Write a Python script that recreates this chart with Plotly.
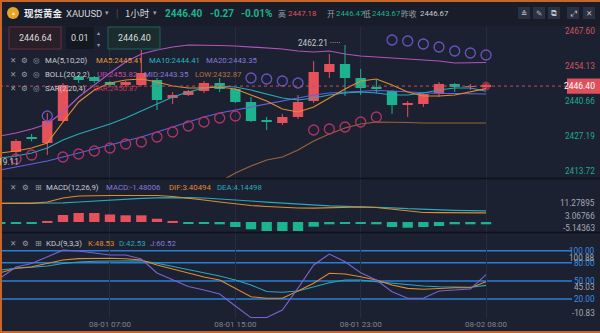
import plotly.graph_objects as go

W, H = 600, 333

# ---------------- data ----------------
bar_idx = list(range(32))
candle_idx = list(range(1, 32))
tick_idx = [7, 15, 23, 31]
tick_text = ['08-01 07:00', '08-01 15:00', '08-01 23:00', '08-02 08:00']

opens = [2421.03, 2426.81, 2424.50, 2432.96, 2449.90, 2449.90, 2447.97, 2446.82, 2446.82, 2448.74,
         2441.82, 2442.97, 2444.51, 2447.59, 2445.28, 2440.28, 2433.15, 2432.19, 2434.50, 2440.66,
         2451.82, 2454.90, 2449.51, 2445.85, 2444.51, 2439.31, 2439.51, 2443.74, 2447.20, 2446.05, 2446.30]
highs = [2426.04, 2427.96, 2436.04, 2447.59, 2450.67, 2450.28, 2448.36, 2448.36, 2460.29, 2449.51,
         2444.12, 2444.89, 2448.36, 2449.51, 2445.66, 2442.20, 2434.50, 2435.66, 2442.97, 2456.05,
         2458.75, 2462.21, 2452.98, 2448.74, 2444.89, 2440.66, 2443.74, 2447.97, 2447.59, 2447.20, 2447.18]
lows = [2419.11, 2425.08, 2419.88, 2432.58, 2447.59, 2447.59, 2446.43, 2446.43, 2446.43, 2437.20,
        2439.51, 2442.59, 2443.74, 2444.12, 2439.89, 2432.58, 2429.50, 2431.42, 2433.73, 2439.89,
        2449.51, 2442.59, 2442.97, 2443.74, 2435.66, 2434.50, 2438.35, 2442.20, 2444.12, 2444.89, 2445.66]
closes = [2425.27, 2426.04, 2432.96, 2446.82, 2448.74, 2448.36, 2446.82, 2447.97, 2451.44, 2441.05,
          2442.97, 2444.51, 2447.59, 2445.28, 2440.28, 2432.96, 2432.96, 2434.50, 2440.28, 2451.82,
          2454.90, 2449.51, 2445.66, 2445.66, 2439.12, 2439.51, 2443.35, 2447.20, 2446.05, 2446.43, 2446.40]

ma5 = [2420.65, 2421.42, 2422.57, 2424.50, 2432.58, 2440.28, 2444.89, 2447.59, 2448.74, 2449.13,
       2447.97, 2446.43, 2445.66, 2445.66, 2446.05, 2445.28, 2442.97, 2440.66, 2437.58, 2436.43,
       2438.35, 2441.82, 2445.28, 2448.36, 2449.13, 2446.82, 2444.12, 2442.59, 2442.59, 2442.97, 2444.12, 2445.41]
ma10 = [2418.72, 2419.49, 2420.65, 2422.57, 2425.65, 2427.96, 2429.88, 2431.81, 2434.12, 2436.81,
        2439.51, 2442.20, 2444.12, 2445.66, 2446.43, 2446.05, 2444.89, 2443.35, 2441.82, 2441.05,
        2441.82, 2442.97, 2443.74, 2444.12, 2443.74, 2442.97, 2442.97, 2443.74, 2444.89, 2445.66, 2445.66, 2444.41]
ma20 = [2414.10, 2415.26, 2416.41, 2417.57, 2419.11, 2420.65, 2422.19, 2423.73, 2425.27, 2426.81,
        2428.73, 2430.65, 2432.58, 2434.50, 2436.04, 2437.20, 2438.35, 2439.51, 2440.66, 2441.82,
        2442.97, 2443.74, 2444.12, 2444.51, 2444.70, 2444.51, 2444.12, 2443.74, 2443.55, 2443.55, 2443.55, 2443.35]
boll_up = [2427.19, 2428.34, 2429.88, 2431.81, 2436.43, 2442.20, 2446.82, 2451.44, 2455.67, 2458.75,
           2460.29, 2461.44, 2462.21, 2462.21, 2462.02, 2461.83, 2461.44, 2461.06, 2460.67, 2459.90,
           2459.52, 2459.90, 2458.75, 2457.98, 2457.59, 2457.21, 2456.82, 2456.44, 2456.05, 2455.28, 2455.28, 2455.48]
boll_low = [2401.01, 2402.18, 2402.94, 2403.33, 2401.79, 2399.10, 2397.56, 2396.02, 2394.87, 2394.87,
            2397.17, 2399.86, 2402.95, 2406.79, 2409.49, 2412.95, 2415.64, 2417.96, 2419.11, 2421.80,
            2425.27, 2427.96, 2430.27, 2431.81, 2432.58, 2432.58, 2432.38, 2432.19, 2432.19, 2432.19, 2432.19, 2432.19]
sar = [None, 2418.34, 2419.88, 2434.89, 2419.11, 2420.26, 2421.42, 2422.57, 2424.11, 2424.88,
       2426.81, 2428.73, 2431.04, 2432.58, 2434.12, 2434.89, 2449.51, 2449.13, 2448.36, 2447.59,
       2429.50, 2429.88, 2430.65, 2432.58, 2434.50, 2464.14, 2463.75, 2462.60, 2461.44, 2459.90, 2459.13, 2458.36]

macd_hist = [-0.4, -0.4, -0.4, 0.4, 2.59, 3.33, 3.33, 2.78, 2.48, 2.48,
             1.22, 0.4, -0.4, -0.4, -0.85, -1.85, -2.70, -3.33, -3.33, -3.33,
             -1.74, -0.85, -0.48, -0.63, -0.85, -1.85, -2.11, -1.85, -1.48, -0.85, -0.85, -0.85]
dif = [6.93, 6.93, 6.93, 7.41, 8.89, 9.63, 9.81, 9.81, 9.81, 9.81,
       9.81, 9.44, 8.89, 8.15, 7.41, 6.67, 6.11, 5.74, 5.37, 5.19,
       5.11, 5.26, 5.48, 5.56, 5.37, 4.81, 4.07, 3.52, 3.44, 3.44, 3.44, 3.40]
dea = [6.93, 6.93, 6.93, 6.96, 7.11, 7.41, 7.78, 8.15, 8.52, 8.78,
       8.96, 9.04, 9.00, 8.89, 8.59, 8.22, 7.78, 7.33, 6.93, 6.56,
       6.22, 6.00, 5.81, 5.67, 5.52, 5.26, 4.93, 4.67, 4.44, 4.33, 4.22, 4.14]

k_vals = [63.6, 70.9, 73.5, 78.8, 84.6, 86.8, 87.4, 87.4, 86.6, 84.6,
          76.3, 69.7, 63.1, 56.5, 51.5, 37.7, 23.8, 21.2, 21.2, 33.3,
          46.0, 62.6, 61.4, 57.0, 51.5, 43.2, 37.7, 36.1, 37.7, 38.7, 38.7, 48.53]
d_vals = [68.0, 70.9, 72.5, 74.7, 78.8, 81.3, 82.5, 82.9, 83.3, 83.3,
          79.1, 73.8, 68.0, 62.3, 58.1, 51.5, 43.2, 32.5, 31.1, 33.3,
          40.4, 47.0, 51.5, 51.5, 48.7, 46.0, 43.2, 41.6, 40.4, 39.4, 39.4, 42.53]
j_vals = [54.8, 73.0, 78.8, 89.6, 100.88, 99.5, 96.2, 92.9, 92.9, 86.3,
          63.1, 51.5, 40.7, 34.9, 28.3, 8.4, -10.83, -10.5, 1.8, 38.0,
          76.3, 94.5, 81.8, 63.6, 51.5, 32.1, 21.2, 21.2, 33.3, 34.9, 36.6, 60.52]

price_ticks = [2467.60, 2454.13, 2440.66, 2427.19, 2413.72]
last_price = 2446.40
high_mark = 2462.21
low_mark = 2419.11
kdj_levels = [100, 80, 50, 20]
macd_labels = ['11.27895', '3.06766', '-5.14363']
kdj_extra_labels = ['100.88', '45.03', '-10.83']

# ---------------- style ----------------
BG = '#1b2130'
HEADER_BG = '#181d29'
GRID = '#262d3b'
RED = '#e5525c'
GREEN = '#1db38f'
ORANGE = '#e08b2e'
TEAL = '#28a9ba'
BLUE = '#6461e0'
LAV = '#8a76dc'
MAG = '#b553bd'
BROWN = '#9e6236'
SAR_BULL = '#b3336a'
SAR_BEAR = '#6a54c0'
LBL = '#c8ccd3'
GRAY = '#9aa0aa'
LAT = 'Roboto, Noto Sans, sans-serif'
CJK = 'Noto Sans CJK SC, sans-serif'
FS = 7.8  # small label size

XD = [0, 565 / W]
X_RANGE = [-0.019, 36.04]


def dom(top, bottom):
    return [1 - bottom / H, 1 - top / H]


fig = go.Figure()

# ---- main panel ----
for flag, col in [(True, RED), (False, GREEN)]:
    wx, wy = [], []
    for i, o, h, l, c in zip(candle_idx, opens, highs, lows, closes):
        if (c >= o) == flag:
            wx += [i, i, None]
            wy += [l, h, None]
    fig.add_trace(go.Scatter(x=wx, y=wy, mode='lines', line=dict(color=col, width=1),
                             xaxis='x', yaxis='y', hoverinfo='skip'))

body_base = [min(o, c) for o, c in zip(opens, closes)]
body_h = [max(abs(c - o), 0.35) for o, c in zip(opens, closes)]
body_col = [RED if c >= o else GREEN for o, c in zip(opens, closes)]
fig.add_trace(go.Bar(x=candle_idx, y=body_h, base=body_base, width=0.66,
                     marker=dict(color=body_col, line=dict(width=0)), xaxis='x', yaxis='y'))

for vals, col in [(boll_low, BROWN), (boll_up, MAG), (ma20, BLUE), (ma10, TEAL), (ma5, ORANGE)]:
    fig.add_trace(go.Scatter(x=bar_idx, y=vals, mode='lines', line=dict(color=col, width=1.2),
                             xaxis='x', yaxis='y', hoverinfo='skip'))

bull_x, bull_y, bear_x, bear_y = [], [], [], []
for i, s in zip(bar_idx, sar):
    if s is None:
        continue
    c = closes[i - 1]
    if s < c:
        bull_x.append(i); bull_y.append(s)
    else:
        bear_x.append(i); bear_y.append(s)
fig.add_trace(go.Scatter(x=bull_x, y=bull_y, mode='markers',
                         marker=dict(symbol='circle-open', size=10, color=SAR_BULL, line=dict(width=1.3)),
                         xaxis='x', yaxis='y'))
fig.add_trace(go.Scatter(x=bear_x, y=bear_y, mode='markers',
                         marker=dict(symbol='circle-open', size=10, color=SAR_BEAR, line=dict(width=1.3)),
                         xaxis='x', yaxis='y'))
fig.add_trace(go.Scatter(x=[candle_idx[-1]], y=[last_price], mode='markers',
                         marker=dict(size=9, color='rgba(255,70,95,0.45)'), xaxis='x', yaxis='y'))

# ---- MACD panel ----
fig.add_trace(go.Bar(x=bar_idx, y=macd_hist, width=0.66,
                     marker=dict(color=[RED if v > 0 else GREEN for v in macd_hist], line=dict(width=0)),
                     xaxis='x2', yaxis='y2'))
fig.add_trace(go.Scatter(x=bar_idx, y=dea, mode='lines', line=dict(color=TEAL, width=1.2), xaxis='x2', yaxis='y2'))
fig.add_trace(go.Scatter(x=bar_idx, y=dif, mode='lines', line=dict(color=ORANGE, width=1.2), xaxis='x2', yaxis='y2'))

# ---- KDJ panel ----
for vals, col in [(d_vals, TEAL), (k_vals, ORANGE), (j_vals, '#7a62d4')]:
    fig.add_trace(go.Scatter(x=bar_idx, y=vals, mode='lines', line=dict(color=col, width=1.1),
                             xaxis='x3', yaxis='y3'))

xcommon = dict(range=X_RANGE, domain=XD, showgrid=True, gridcolor=GRID, gridwidth=1,
               tickvals=tick_idx, zeroline=False, showline=False, fixedrange=True, ticks='')
ycommon = dict(showgrid=False, showticklabels=False, zeroline=False, showline=False, fixedrange=True)

fig.update_layout(
    width=W, height=H, margin=dict(l=0, r=0, t=0, b=0),
    paper_bgcolor=BG, plot_bgcolor=BG, showlegend=False, hovermode=False,
    xaxis=dict(**xcommon, anchor='y', showticklabels=False),
    xaxis2=dict(**xcommon, anchor='y2', showticklabels=False),
    xaxis3=dict(**xcommon, anchor='y3', showticklabels=True, ticktext=tick_text,
                tickfont=dict(family=LAT, size=8, color='#7f8692')),
    yaxis=dict(**ycommon, domain=dom(27, 178), range=[2411.03, 2469.14]),
    yaxis2=dict(**ycommon, domain=dom(179, 232), range=[-3.70, 15.93]),
    yaxis3=dict(**ycommon, domain=dom(233, 318), range=[-11.42, 129.30]),
)

shapes = []
ann = []


def T(x, y, s, color=LBL, size=FS, anchor='left', family=LAT):
    ann.append(dict(x=x / W, y=1 - y / H, xref='paper', yref='paper', text=s, showarrow=False,
                    xanchor=anchor, yanchor='middle', font=dict(family=family, size=size, color=color)))


def R(x0, y0, x1, y1, fill, line=None, lw=1):
    shapes.append(dict(type='rect', xref='paper', yref='paper', x0=x0 / W, x1=x1 / W,
                       y0=1 - y1 / H, y1=1 - y0 / H, fillcolor=fill,
                       line=dict(color=line or fill, width=lw if line else 0), layer='above'))


# header
R(0, 0, 600, 26, HEADER_BG)
shapes.append(dict(type='circle', xref='paper', yref='paper', x0=7 / W, x1=19 / W,
                   y0=1 - 19 / H, y1=1 - 7 / H, fillcolor='#e8a326', line=dict(width=0)))
T(13, 13, '▲', '#fff3c8', 5, 'center')
T(22, 13, '<b>现货黄金</b>', '#e9ebef', 9.5, family=CJK)
T(64, 13, 'XAUUSD', '#d4d7dc', 9.5)
T(107, 13, '▾', GRAY, 7, 'center')
T(117, 13, '|', '#4a505c', 10, 'center')
T(123, 13, '1小时', '#d4d7dc', 9.5, family=CJK)
T(155, 13, '▾', GRAY, 7, 'center')
T(163, 13, '<b>2446.40</b>', GREEN, 10)
T(208, 13, '<b>-0.27</b>', GREEN, 10)
T(239, 13, '<b>-0.01%</b>', GREEN, 10)
T(276, 13, '高', GRAY, FS, family=CJK)
T(286, 13, '2447.18', RED, FS)
T(325, 13, '开', GRAY, FS, family=CJK)
T(334, 13, '2446.47', GREEN, FS)
T(361, 13, '低', GRAY, FS, family=CJK)
T(370, 13, '2443.67', GREEN, FS)
T(399, 13, '昨收', GRAY, FS, family=CJK)
T(418, 13, '2446.67', '#c8ccd2', FS)
for (x0, g) in [(518, '≙'), (533, '✎'), (548, '⧉'), (567, '⤢'), (583, '✕')]:
    R(x0, 7, x0 + 12, 19, '#2b3140')
    T(x0 + 6, 13, g, '#c0c4cc', 7.5, 'center', 'DejaVu Sans')

# order boxes
R(9, 27, 61, 49, '#2a1f28', '#6b2f3a')
T(35, 38, '2446.64', '#d9dadf', 9, 'center')
R(66, 27, 94, 49, '#141821')
T(80, 38, '0.01', '#d9dadf', 9, 'center')
T(98, 32, '▴', GRAY, 6, 'center')
T(98, 44, '▾', GRAY, 6, 'center')
R(108, 27, 160, 49, '#1b2c2e', '#1f6157')
T(134, 38, '2446.40', '#d9dadf', 9, 'center')

# indicator legends
for y in (61, 74, 88):
    T(13, y, '✕', GRAY, 7.5, 'center', 'DejaVu Sans')
    T(24, y, '⚙', GRAY, 7.5, 'center', 'DejaVu Sans')
    T(36, y, '◎', GRAY, 7.5, 'center', 'DejaVu Sans')
T(43, 61, 'MA(5,10,20)', LBL)
T(94, 61, 'MA5:2445.41', '#e8973a')
T(147, 61, 'MA10:2444.41', '#2bb2c2')
T(204, 61, 'MA20:2443.35', LAV)
T(43, 74, 'BOLL(20,2,2)', LBL)
T(95, 74, 'UP:2453.82', '#c8479f')
T(142, 74, 'MID:2443.35', LAV)
T(193, 74, 'LOW:2432.87', '#b6713f')
T(43, 88, 'SAR(2,20,4)', LBL)
T(91, 88, 'SAR:2450.87', '#c8355f')

for y in (187, 243):
    T(13, y, '✕', GRAY, 7.5, 'center', 'DejaVu Sans')
    T(25, y, '⚙', GRAY, 7.5, 'center', 'DejaVu Sans')
    T(38, y, '⊞', GRAY, 8, 'center', 'DejaVu Sans')
T(44, 187, 'MACD(12,26,9)', LBL)
T(104, 187, 'MACD:-1.48006', LAV)
T(167, 187, 'DIF:3.40494', '#e08b2e')
T(215, 187, 'DEA:4.14498', '#2aa8bb')
T(44, 243, 'KDJ(9,3,3)', LBL)
T(86, 243, 'K:48.53', '#e08b2e')
T(117, 243, 'D:42.53', '#2aa8bb')
T(148, 243, 'J:60.52', LAV)

# price axis labels
for p in price_ticks:
    col = '#d4515d' if p > last_price else '#22a98a'
    ann.append(dict(x=597 / W, y=p, xref='paper', yref='y', text=f'{p:.2f}', showarrow=False,
                    xanchor='right', yanchor='middle', font=dict(family=LAT, size=8.2, color=col)))
# last price line and box
shapes.append(dict(type='line', xref='paper', yref='y', x0=0, x1=567 / W, y0=last_price, y1=last_price,
                   line=dict(color='#c84a5a', width=1, dash='dot'), layer='above'))
shapes.append(dict(type='rect', xref='paper', yref='y', x0=567 / W, x1=1,
                   y0=last_price - 2.9, y1=last_price + 2.9, fillcolor='#e0505b', line=dict(width=0)))
ann.append(dict(x=597 / W, y=last_price, xref='paper', yref='y', text=f'{last_price:.2f}', showarrow=False,
                xanchor='right', yanchor='middle', font=dict(family=LAT, size=8.5, color='#ffffff')))
# high / low marks
ann.append(dict(x=21.9, y=high_mark + 0.8, xref='x', yref='y', text=f'{high_mark:.2f} ·····', showarrow=False,
                xanchor='right', yanchor='middle', font=dict(family=LAT, size=8.2, color='#c3c7ce')))
T(21, 162, f'{low_mark:.2f}', '#c3c7ce', 8.2, 'right')

# MACD labels
for s, y in zip(macd_labels, (203, 216, 228)):
    T(597, y, s, '#a4a9b1', 8.2, 'right')

# KDJ reference lines and labels
for lv in kdj_levels:
    shapes.append(dict(type='line', xref='paper', yref='y3', x0=0, x1=572 / W, y0=lv, y1=lv,
                       line=dict(color='#2b7ed2', width=1.5), layer='below'))
    ann.append(dict(x=597 / W, y=lv, xref='paper', yref='y3', text=f'{lv:.2f}', showarrow=False,
                    xanchor='right', yanchor='middle', font=dict(family=LAT, size=8.2, color='#3a8ee6')))
for s, y in zip(kdj_extra_labels, (258, 287, 313)):
    T(597, y, s, '#a4a9b1', 8.2, 'right')

# panel separators and frame
for y in (178.5, 232.5):
    shapes.append(dict(type='line', xref='paper', yref='paper', x0=0, x1=1, y0=1 - y / H, y1=1 - y / H,
                       line=dict(color='#0e1219', width=1.5)))
for (x0, y0, x1, y1) in [(0, 1, 600, 1), (0, 332, 600, 332), (1, 0, 1, 333)]:
    shapes.append(dict(type='line', xref='paper', yref='paper', x0=x0 / W, x1=x1 / W,
                       y0=1 - y0 / H, y1=1 - y1 / H, line=dict(color='#c8652b', width=2)))

fig.update_layout(shapes=shapes, annotations=ann)
fig.write_html('out.html')
